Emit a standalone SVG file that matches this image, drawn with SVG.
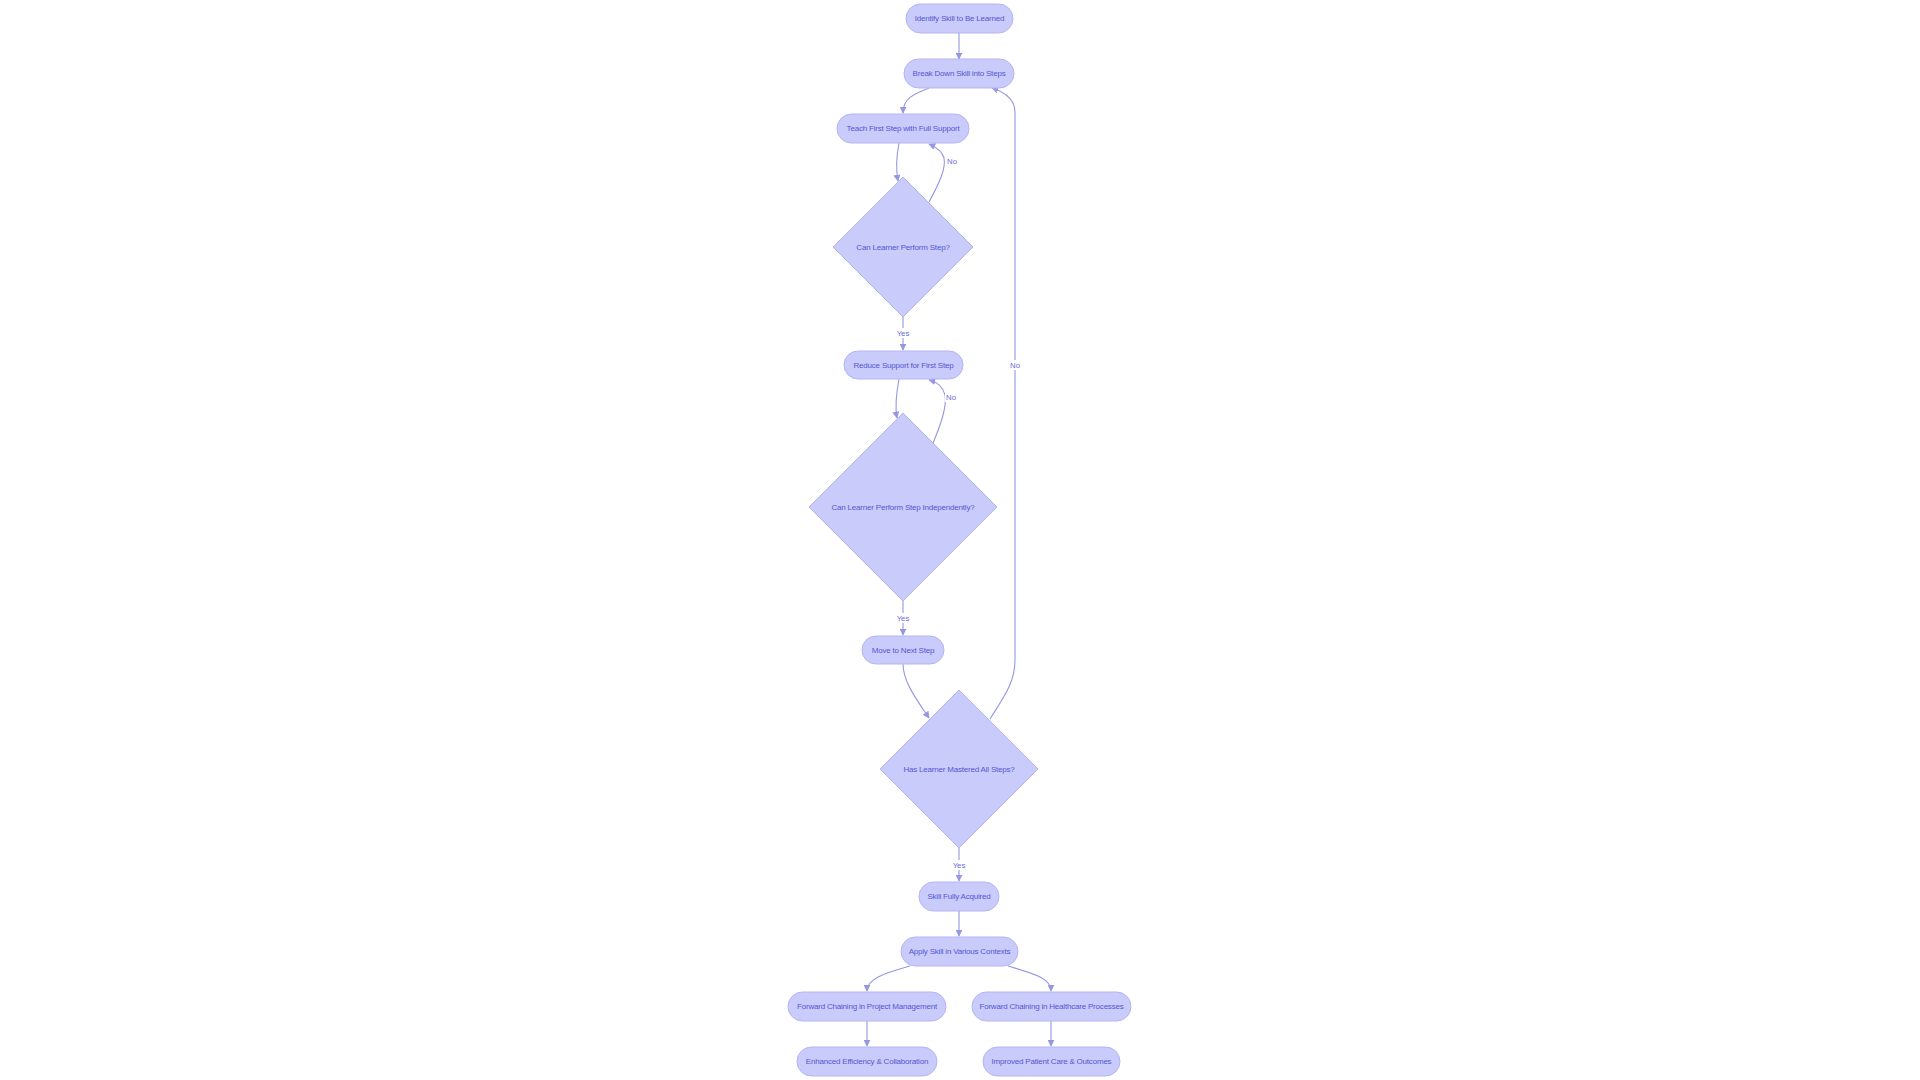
<svg xmlns="http://www.w3.org/2000/svg" width="1920" height="1080" viewBox="0 0 1920 1080">
<defs>
<style>
.node rect,.node polygon{fill:#c9cbfa;stroke:#b3b5f3;stroke-width:1}
.node text{font-family:"Liberation Sans",Arial,sans-serif;font-size:8px;fill:#5457d2;text-anchor:middle;dominant-baseline:central;letter-spacing:-0.2px}
.edges path{fill:none;stroke:#9597e2;stroke-width:1.1}
.lbl rect{fill:#ffffff}
.lbl text{font-family:"Liberation Sans",Arial,sans-serif;font-size:7.8px;fill:#6a6dd8;text-anchor:middle;dominant-baseline:central}
</style>
<marker id="arr" viewBox="0 0 10 10" refX="9" refY="5" markerWidth="7" markerHeight="7" markerUnits="userSpaceOnUse" orient="auto">
<path d="M0,0 L10,5 L0,10 z" fill="#9597e2"/>
</marker>
</defs>
<rect width="1920" height="1080" fill="#ffffff"/>
<g id="edges" class="edges">
<path d="M959,33 L959,59" marker-end="url(#arr)"/>
<path d="M929,88 C914,94 903,98 903,113" marker-end="url(#arr)"/>
<path d="M899,143 C896,158 896,170 898,181" marker-end="url(#arr)"/>
<path d="M929,202 C940,182 946,168 944,158 C942,151 936,147 929,144" marker-end="url(#arr)"/>
<path d="M903,316 L903,350" marker-end="url(#arr)"/>
<path d="M899,379 C896,395 895,408 897,418" marker-end="url(#arr)"/>
<path d="M933,443 C942,422 947,405 945,395 C943,387 937,382 929,380" marker-end="url(#arr)"/>
<path d="M903,601 L903,635" marker-end="url(#arr)"/>
<path d="M903,664 C903,682 917,700 929,718" marker-end="url(#arr)"/>
<path d="M990,719 C1005,695 1015,682 1015,660 L1015,112 C1015,99 1004,92 992,88" marker-end="url(#arr)"/>
<path d="M959,847 L959,881" marker-end="url(#arr)"/>
<path d="M959,911 L959,936" marker-end="url(#arr)"/>
<path d="M910,966 C886,973 867,978 867,991" marker-end="url(#arr)"/>
<path d="M1008,966 C1034,974 1051,978 1051,991" marker-end="url(#arr)"/>
<path d="M867,1021 L867,1046" marker-end="url(#arr)"/>
<path d="M1051,1021 L1051,1046" marker-end="url(#arr)"/>
</g>
<g id="edge-labels">
<g class="lbl"><rect x="946" y="156" width="12" height="10"/><text x="952" y="161">No</text></g>
<g class="lbl"><rect x="897" y="328" width="13" height="10"/><text x="903" y="333">Yes</text></g>
<g class="lbl"><rect x="945" y="392" width="12" height="10"/><text x="951" y="397">No</text></g>
<g class="lbl"><rect x="897" y="613" width="13" height="10"/><text x="903" y="618">Yes</text></g>
<g class="lbl"><rect x="1009" y="360" width="12" height="10"/><text x="1015" y="365">No</text></g>
<g class="lbl"><rect x="953" y="860" width="13" height="10"/><text x="959" y="865">Yes</text></g>
</g>
<g id="n1" class="node"><rect x="906" y="4" width="107" height="29" rx="14.5"/><text x="959.5" y="18.5">Identify Skill to Be Learned</text></g>
<g id="n2" class="node"><rect x="904" y="59" width="110" height="29" rx="14.5"/><text x="959" y="73.5">Break Down Skill into Steps</text></g>
<g id="n3" class="node"><rect x="837" y="114" width="132" height="29" rx="14.5"/><text x="903" y="128.5">Teach First Step with Full Support</text></g>
<g id="d1" class="node"><polygon points="903,177 973,247 903,317 833,247"/><text x="903" y="247">Can Learner Perform Step?</text></g>
<g id="n4" class="node"><rect x="844" y="351" width="119" height="28" rx="14"/><text x="903.5" y="365">Reduce Support for First Step</text></g>
<g id="d2" class="node"><polygon points="903,413 997,507 903,601 809,507"/><text x="903" y="507.5">Can Learner Perform Step Independently?</text></g>
<g id="n5" class="node"><rect x="862" y="636" width="82" height="28" rx="14"/><text x="903" y="650">Move to Next Step</text></g>
<g id="d3" class="node"><polygon points="959,690 1038,769 959,848 880,769"/><text x="959" y="769">Has Learner Mastered All Steps?</text></g>
<g id="n6" class="node"><rect x="919" y="882" width="80" height="29" rx="14.5"/><text x="959" y="896.5">Skill Fully Acquired</text></g>
<g id="n7" class="node"><rect x="901" y="937" width="117" height="29" rx="14.5"/><text x="959.5" y="951.5">Apply Skill in Various Contexts</text></g>
<g id="n8" class="node"><rect x="788" y="992" width="158" height="29" rx="14.5"/><text x="867" y="1006.5">Forward Chaining in Project Management</text></g>
<g id="n9" class="node"><rect x="972" y="992" width="159" height="29" rx="14.5"/><text x="1051.5" y="1006.5">Forward Chaining in Healthcare Processes</text></g>
<g id="n10" class="node"><rect x="797" y="1047" width="140" height="29" rx="14.5"/><text x="867" y="1061.5">Enhanced Efficiency &amp; Collaboration</text></g>
<g id="n11" class="node"><rect x="983" y="1047" width="137" height="29" rx="14.5"/><text x="1051.5" y="1061.5">Improved Patient Care &amp; Outcomes</text></g>
</svg>
